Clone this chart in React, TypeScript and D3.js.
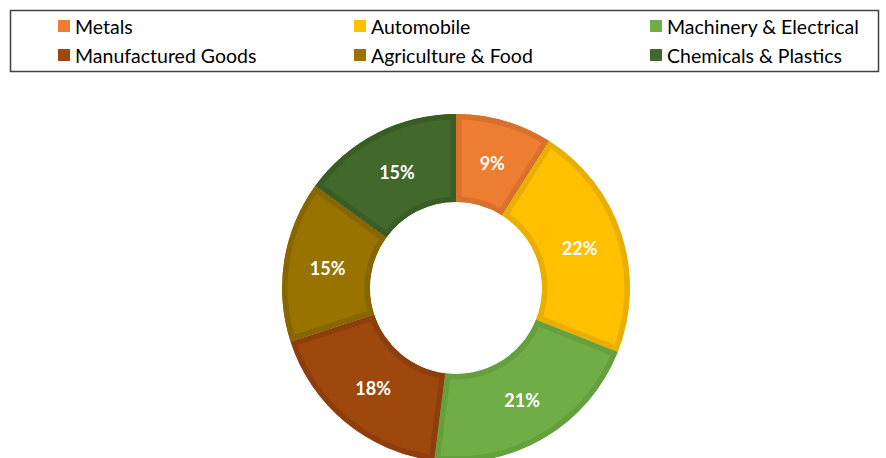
import React from "react";
import * as d3 from "d3";

const categories = ["Metals", "Automobile", "Machinery & Electrical", "Manufactured Goods", "Agriculture & Food", "Chemicals & Plastics"];
const values = [9, 22, 21, 18, 15, 15];
const fills = ["#ED7D31", "#FFC000", "#70AD47", "#9E480E", "#997300", "#43682B"];
const borders = ["#D9702B", "#E8AE00", "#64A03E", "#8C3F0C", "#876600", "#3A5C25"];

const W = 886, H = 458;
const cx = 456, cy = 288, rOuter = 174, rInner = 86;
const FONT = "Lato, 'Open Sans', sans-serif";

export default function App() {
  const pie = d3.pie<number>().sort(null).value((d) => d)(values);
  const arc = d3.arc<d3.PieArcDatum<number>>().innerRadius(rInner).outerRadius(rOuter);
  const total = d3.sum(values);
  const colX = [58, 354, 650];
  const rowY = [26, 55];
  return (
    <svg width={W} height={H} style={{ position: "absolute", left: 0, top: 0, background: "#fff" }}>
      <defs>
        {pie.map((p, i) => (
          <clipPath id={`clip${i}`} key={i}>
            <path d={arc(p) || ""} />
          </clipPath>
        ))}
      </defs>
      <rect x={10.5} y={10.5} width={868} height={61} fill="none" stroke="#404040" strokeWidth={1.5} />
      {categories.map((c, i) => {
        const x = colX[i % 3];
        const y = rowY[Math.floor(i / 3)];
        return (
          <g key={c}>
            <rect x={x} y={y - 6} width={12} height={12} fill={fills[i]} />
            <text x={x + 17} y={y} dominantBaseline="central" fontFamily={FONT} fontSize={19.5} fill="#000">{c}</text>
          </g>
        );
      })}
      <g transform={`translate(${cx},${cy})`}>
        {pie.map((p, i) => (
          <path key={i} d={arc(p) || ""} fill={fills[i]} stroke={borders[i]} strokeWidth={11} clipPath={`url(#clip${i})`} />
        ))}
        {pie.map((p, i) => {
          const [lx, ly] = arc.centroid(p);
          return (
            <text key={i} x={lx} y={ly} textAnchor="middle" dominantBaseline="central" fontFamily={FONT} fontWeight="bold" fontSize={18} fill="#fff">
              {`${Math.round((values[i] / total) * 100)}%`}
            </text>
          );
        })}
      </g>
    </svg>
  );
}
